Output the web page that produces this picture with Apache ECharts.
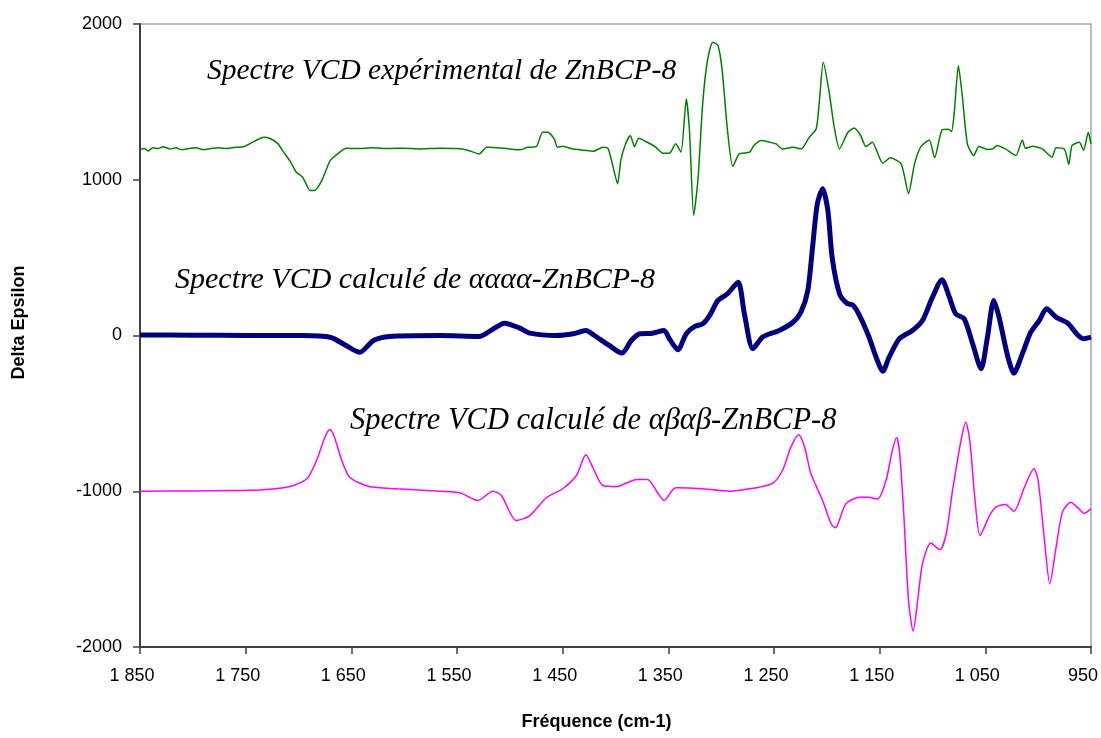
<!DOCTYPE html>
<html>
<head>
<meta charset="utf-8">
<script src="https://cdn.jsdelivr.net/npm/echarts@6/dist/echarts.min.js"></script>
<style>
html,body{margin:0;padding:0;background:#fff;}
#chart{width:1101px;height:738px;}
</style>
</head>
<body>
<div id="chart"></div>
<script>
// ---- Data (frequency in cm-1, Delta Epsilon) ----
const expFreq = [1850,1846,1842,1838,1833,1828,1822,1816,1810,1804,1797,1790,1783,1776,1768,1760,1752,1745,1738,1733,1727,1720,1714,1708,1702,1696,1689,1685,1678,1670,1661,1655,1645,1630,1615,1600,1585,1566,1550,1540,1529,1522,1512,1503,1490,1483,1475,1469,1464,1458,1455,1450,1440,1430,1421,1412,1407,1403,1398,1395,1391,1386,1382,1378,1370,1362,1355,1349,1343,1338,1333,1330,1326,1322,1317.5,1313,1308,1303,1299,1294,1289,1283,1273,1269,1262,1254,1248,1242,1232,1224,1217,1210,1207,1203.4,1198,1193,1188,1180,1174,1168,1163,1157,1147,1140,1130,1127,1122.7,1117,1111,1103,1098,1091,1085,1082,1079.5,1075.5,1072,1067,1061,1056,1048,1043,1039,1031,1021,1015,1012,1005,996,987,983,975,971,968,961,957,952.6,950];
const expVal = [1195,1200,1185,1205,1200,1212,1198,1205,1192,1200,1206,1192,1200,1205,1200,1208,1212,1235,1260,1273,1265,1235,1177,1120,1048,1016,931,931,995,1123,1177,1202,1200,1205,1200,1203,1198,1202,1200,1190,1166,1208,1205,1200,1192,1208,1212,1305,1305,1262,1209,1215,1197,1190,1183,1208,1200,1102,974,1123,1220,1284,1213,1267,1241,1210,1170,1170,1231,1177,1520,1316,770,995,1487,1765,1883,1862,1701,1316,1085,1166,1177,1220,1252,1241,1230,1198,1208,1198,1269,1327,1509,1755,1573,1337,1198,1305,1333,1284,1213,1241,1106,1141,1106,1038,910,1102,1213,1256,1141,1320,1325,1310,1423,1733,1552,1231,1156,1213,1195,1198,1220,1198,1156,1256,1202,1215,1198,1145,1205,1195,1098,1220,1240,1188,1305,1231];

const aaaaFreq = [1850,1800,1750,1696,1670,1655,1642,1629,1614,1566,1529,1519,1505,1491,1481,1456,1440,1428,1420,1406,1394,1385,1377,1365,1354,1349,1341,1333,1325,1317.5,1311,1303,1294,1284,1278,1270,1261,1254,1245,1232,1224.5,1218,1213.5,1209,1204,1199,1195,1188,1181,1175,1169,1160,1154,1147,1141,1131.5,1119,1109.5,1100,1091,1084,1078,1070,1062,1054,1048,1042,1037,1029,1023,1015,1007,999,992,983,972,963,957,950];
const aaaaVal = [4,2,0,0,-11,-64,-107,-32,-6,0,-6,28,79,49,15,0,11,32,0,-64,-113,-32,11,15,32,-21,-92,11,58,75,128,225,268,342,139,-85,-11,11,32,85,150,289,567,845,942,802,503,268,207,193,128,-11,-128,-229,-139,-21,32,96,246,358,246,139,107,-53,-214,-11,225,118,-128,-242,-118,21,96,171,118,79,6,-21,-11];

const ababFreq = [1850,1800,1760,1733,1708,1692,1683,1675,1670.4,1666,1659,1651.5,1633,1607,1566,1547.5,1530,1516,1508,1494,1481,1465.5,1450,1437,1428,1421.5,1412,1399,1380,1369.5,1361.5,1354,1343,1317.5,1292,1273,1264,1251,1242,1234,1226.7,1221,1215,1204,1196,1192,1182,1169,1161.5,1152,1144,1138,1134,1131,1127,1122.7,1118.3,1114,1109.5,1101.6,1093,1087,1081,1073,1068.5,1064.7,1059.7,1055,1046,1040,1031,1023,1013,1004,1000,994,989,983,977,969,963,956.6,950];
const ababVal = [-1000,-998,-995,-991,-970,-920,-803,-653,-603,-653,-803,-910,-970,-984,-1000,-1010,-1059,-1000,-1027,-1188,-1156,-1042,-984,-899,-766,-846,-963,-970,-924,-924,-995,-1059,-978,-984,-1000,-984,-974,-948,-867,-717,-637,-717,-888,-1059,-1209,-1235,-1081,-1038,-1038,-1049,-931,-738,-657,-760,-1166,-1701,-1898,-1701,-1466,-1333,-1376,-1273,-995,-674,-557,-674,-1059,-1284,-1156,-1102,-1085,-1128,-974,-856,-931,-1316,-1594,-1359,-1134,-1070,-1102,-1141,-1113];

const seriesNames = ['Spectre VCD expérimental de ZnBCP-8','Spectre VCD calculé de αααα-ZnBCP-8','Spectre VCD calculé de αβαβ-ZnBCP-8'];
const xTicks = [1850,1750,1650,1550,1450,1350,1250,1150,1050,950];
const yTicks = [-2000,-1000,0,1000,2000];

function zip(a,b){return a.map((v,i)=>[v,b[i]]);}
function fmtThousands(v){
  const s = String(Math.round(v));
  return s.length > 3 ? s.slice(0, s.length-3) + ' ' + s.slice(-3) : s;
}

const chart = echarts.init(document.getElementById('chart'), null, {renderer:'canvas'});
const axisFont = '"Liberation Sans", Arial, sans-serif';
const serifFont = '"Liberation Serif", "Times New Roman", serif';

chart.setOption({
  animation:false,
  backgroundColor:'#ffffff',
  grid:{left:140, right:9, top:24, bottom:91, show:true, borderColor:'#a6a6a6', borderWidth:1.5, containLabel:false},
  xAxis:{
    type:'value', inverse:true, min:950, max:1850, interval:100,
    name:'Fréquence (cm-1)', nameLocation:'middle', nameGap:66,
    nameTextStyle:{fontFamily:axisFont, fontWeight:'bold', fontSize:18, color:'#000', padding:[0,38,0,0]},
    axisLine:{show:true, onZero:false, lineStyle:{color:'#404040', width:2}},
    axisTick:{show:true, inside:false, length:7, lineStyle:{color:'#404040', width:1.5}},
    axisLabel:{fontFamily:axisFont, fontSize:18, color:'#000', margin:20, padding:[0,16,0,0],
      formatter:function(v){return fmtThousands(v);}},
    splitLine:{show:false}
  },
  yAxis:{
    type:'value', min:-2000, max:2000, interval:1000,
    name:'Delta Epsilon', nameLocation:'middle', nameGap:112, nameRotate:90,
    nameTextStyle:{fontFamily:axisFont, fontWeight:'bold', fontSize:18, color:'#000', padding:[0,0,0,26]},
    axisLine:{show:true, onZero:false, lineStyle:{color:'#404040', width:2}},
    axisTick:{show:true, inside:false, length:7, lineStyle:{color:'#404040', width:1.5}},
    axisLabel:{fontFamily:axisFont, fontSize:18, color:'#000', margin:18,
      formatter:function(v){return String(v);}},
    splitLine:{show:false}
  },
  series:[
    {name:seriesNames[0], type:'line', data:zip(expFreq,expVal), showSymbol:false, smooth:0.2,
     lineStyle:{color:'#008000', width:1.5}, itemStyle:{color:'#008000'}, z:3},
    {name:seriesNames[1], type:'line', data:zip(aaaaFreq,aaaaVal), showSymbol:false, smooth:0.25,
     lineStyle:{color:'#000080', width:5}, itemStyle:{color:'#000080'}, z:2},
    {name:seriesNames[2], type:'line', data:zip(ababFreq,ababVal), showSymbol:false, smooth:0.25,
     lineStyle:{color:'#ff00ff', width:1.5}, itemStyle:{color:'#ff00ff'}, z:2}
  ],
  graphic:[
    {type:'text', left:207, top:56, style:{text:seriesNames[0], font:'italic 29.5px ' + serifFont, fill:'#000'}},
    {type:'text', left:175, top:265, style:{text:seriesNames[1], font:'italic 30px ' + serifFont, fill:'#000'}},
    {type:'text', left:350, top:406, style:{text:seriesNames[2], font:'italic 30.5px ' + serifFont, fill:'#000'}}
  ]
});
</script>
</body>
</html>
